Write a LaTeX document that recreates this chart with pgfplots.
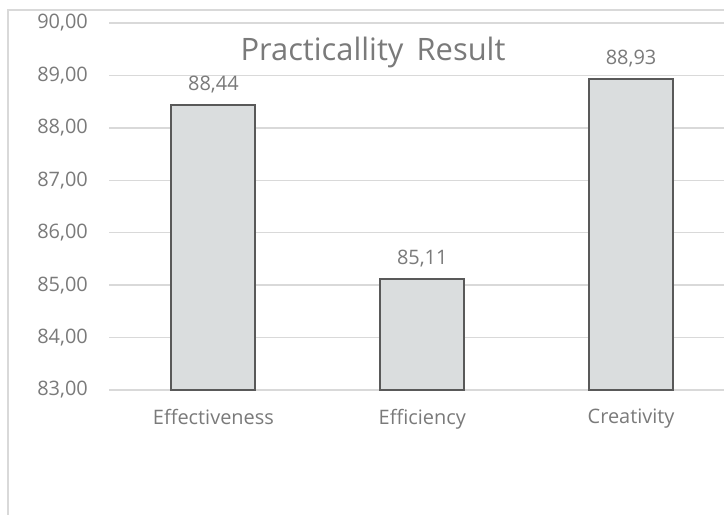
\documentclass[border=0pt]{standalone}
\usepackage{pgfplots}
\pgfplotsset{compat=1.18}
\usepackage{fontspec}
\setmainfont{Open Sans}
\definecolor{txtgray}{HTML}{7A7A7A}
\definecolor{gridgray}{HTML}{D9D9D9}
\definecolor{barfill}{HTML}{DADDDE}
\definecolor{baredge}{HTML}{595959}
\begin{document}
\begin{tikzpicture}
\useasboundingbox (0,0) rectangle (724bp,515bp);
\fill[white] (0,0) rectangle (724bp,515bp);
\draw[gridgray, line width=1.5bp] (8bp,0) -- (8bp,505bp) -- (724bp,505bp);
\begin{axis}[
  at={(109bp,125bp)}, anchor=south west,
  scale only axis, width=615bp, height=367bp,
  xmin=-0.5, xmax=2.445, ymin=83, ymax=90,
  ybar, bar width=84bp,
  xtick={0,1,2}, xticklabels={Effectiveness,Efficiency,Creativity},
  ytick={83,84,...,90},
  ymajorgrids, grid style={gridgray, line width=1.3bp},
  axis line style={draw=none}, major tick length=0pt,
  /pgf/number format/assume math mode=true,
  /pgf/number format/use comma,
  /pgf/number format/fixed,
  /pgf/number format/fixed zerofill,
  /pgf/number format/precision=2,
  ticklabel style={font=\fontsize{20}{22}\selectfont, text=txtgray},
  y tick label style={anchor=east, inner sep=0pt, xshift=-21bp},
  x tick label style={anchor=north, inner sep=0pt, yshift=-19bp},
  nodes near coords,
  every node near coord/.append style={font=\fontsize{20}{22}\selectfont, text=txtgray, anchor=south, inner sep=0pt, yshift=11bp},
  clip=false,
]
\addplot[fill=barfill, draw=baredge, line width=2bp] coordinates {(0,88.44) (1,85.11) (2,88.93)};
\end{axis}
\node[text=txtgray, font=\fontsize{31}{34}\selectfont, inner sep=0pt] at (373bp,463bp) {Practicallity\, Result};
\end{tikzpicture}
\end{document}
